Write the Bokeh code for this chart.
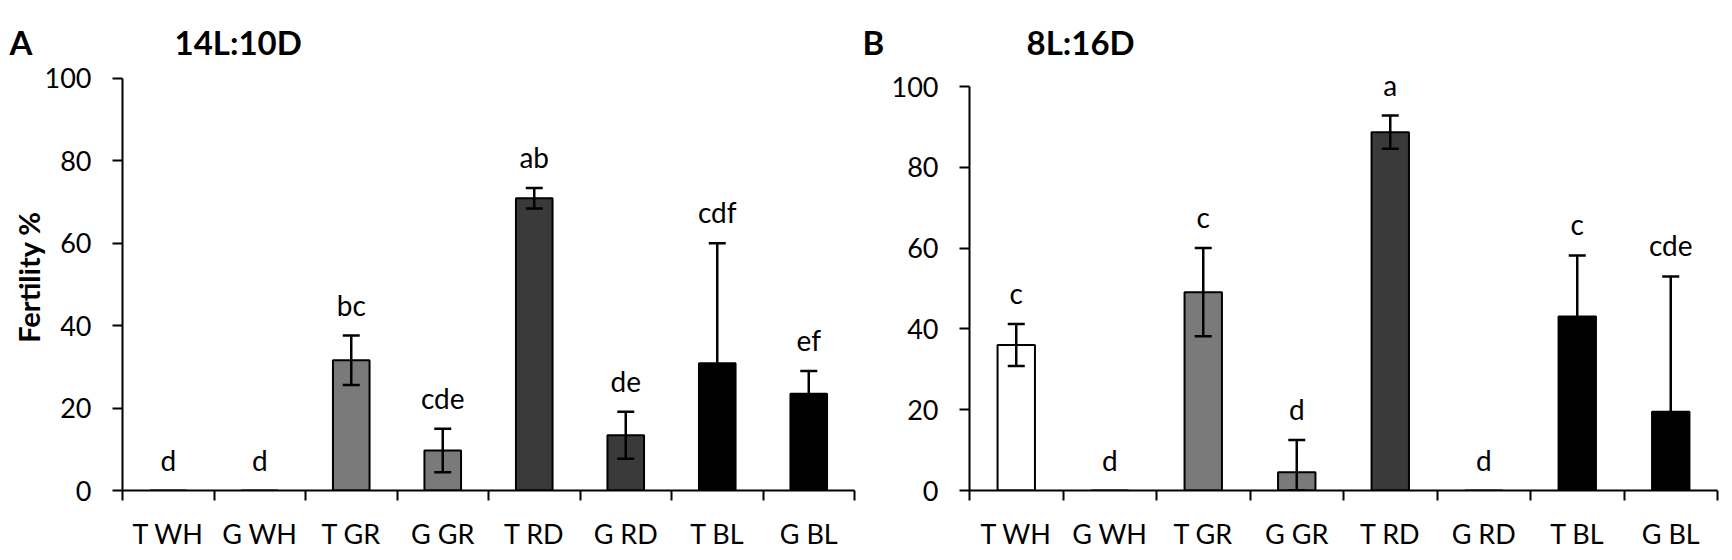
from bokeh.plotting import figure
from bokeh.models import ColumnDataSource, FixedTicker, Whisker, TeeHead
from bokeh.layouts import row, column
from bokeh.core.properties import value
from bokeh.embed import file_html
from bokeh.resources import INLINE

categories = ["T WH", "G WH", "T GR", "G GR", "T RD", "G RD", "T BL", "G BL"]
bar_colors = ["#ffffff", "#ffffff", "#7a7a7a", "#7a7a7a", "#3a3a3a", "#3a3a3a", "#000000", "#000000"]

a_values = [0, 0, 31.6, 9.7, 70.9, 13.4, 30.9, 23.5]
a_errors = [0, 0, 6.0, 5.3, 2.5, 5.7, 29.1, 5.5]
a_letters = ["d", "d", "bc", "cde", "ab", "de", "cdf", "ef"]

b_values = [36.0, 0, 49.1, 4.5, 88.7, 0, 43.1, 19.5]
b_errors = [5.2, 0, 10.9, 8.0, 4.1, 0, 15.1, 33.5]
b_letters = ["c", "d", "c", "d", "a", "d", "c", "cde"]

y_ticks = [0, 20, 40, 60, 80, 100]

panel_tags = ["A", "B"]
panel_titles = ["14L:10D", "8L:16D"]
y_title = "Fertility %"

FONT = "Lato"
FIG_A_W, FIG_B_W = 878, 849
HEADER_H = 62
PANEL_H = 498


def make_panel(values, errors, letters, width, height, border_left, border_right,
               border_top, border_bottom, y_end, y_label):
    n = len(categories)
    centers = [i + 0.5 for i in range(n)]
    edges = list(range(n + 1))
    p = figure(width=width, height=height, x_range=(0, n), y_range=(0, y_end),
               output_backend="svg", toolbar_location=None, title=None,
               min_border_left=border_left, min_border_right=border_right,
               min_border_top=border_top, min_border_bottom=border_bottom)
    p.outline_line_color = None
    p.grid.visible = False
    p.background_fill_color = "white"
    p.border_fill_color = "white"

    src = ColumnDataSource(dict(x=centers, top=values, color=bar_colors,
                                label_y=[v + e for v, e in zip(values, errors)],
                                letters=letters))
    p.vbar(x="x", top="top", bottom=0, width=0.4, fill_color="color",
           line_color="black", line_width=2, source=src)

    ex = [c for c, e in zip(centers, errors) if e > 0]
    eu = [v + e for v, e in zip(values, errors) if e > 0]
    el = [max(0, v - e) for v, e in zip(values, errors) if e > 0]
    esrc = ColumnDataSource(dict(x=ex, upper=eu, lower=el))
    w = Whisker(base="x", upper="upper", lower="lower", source=esrc,
                line_color="black", line_width=2.5,
                upper_head=TeeHead(size=17, line_width=2.5, line_color="black"),
                lower_head=TeeHead(size=17, line_width=2.5, line_color="black"),
                level="annotation")
    p.add_layout(w)

    p.text(x="x", y="label_y", text="letters", source=src,
           text_font=value(FONT), text_font_size="28px", text_color="black",
           text_align="center", text_baseline="alphabetic", y_offset=-31)

    xa = p.xaxis[0]
    xa.ticker = FixedTicker(ticks=centers, minor_ticks=edges)
    xa.major_label_overrides = {c: name for c, name in zip(centers, categories)}
    xa.major_tick_line_color = None
    xa.major_tick_out = 0
    xa.major_tick_in = 0
    xa.minor_tick_out = 10
    xa.minor_tick_in = 0
    xa.minor_tick_line_color = "black"
    xa.minor_tick_line_width = 2
    xa.axis_line_color = "black"
    xa.axis_line_width = 2
    xa.major_label_text_font = FONT
    xa.major_label_text_font_size = "27px"
    xa.major_label_text_color = "black"
    xa.major_label_text_line_height = 1.0
    xa.major_label_standoff = 16

    ya = p.yaxis[0]
    ya.ticker = FixedTicker(ticks=y_ticks)
    ya.bounds = (0, 100)
    ya.minor_tick_line_color = None
    ya.major_tick_out = 10
    ya.major_tick_in = 0
    ya.major_tick_line_color = "black"
    ya.major_tick_line_width = 2
    ya.axis_line_color = "black"
    ya.axis_line_width = 2
    ya.major_label_text_font = FONT
    ya.major_label_text_font_size = "27px"
    ya.major_label_text_color = "black"
    ya.major_label_standoff = 21
    if y_label:
        ya.axis_label = y_label
        ya.axis_label_text_font = FONT
        ya.axis_label_text_font_style = "bold"
        ya.axis_label_text_font_size = "29px"
        ya.axis_label_text_color = "black"
        ya.axis_label_standoff = -4
    return p


# header strip carrying the panel letters and the photoperiod titles
header_w = FIG_A_W + FIG_B_W
header = figure(width=header_w, height=HEADER_H, x_range=(0, header_w),
                y_range=(0, HEADER_H), output_backend="svg", toolbar_location=None,
                title=None, x_axis_type=None, y_axis_type=None, min_border=0)
header.outline_line_color = None
header.grid.visible = False
hsrc = ColumnDataSource(dict(x=[9, 174, 862, 1026],
                             y=[8, 8, 8, 8],
                             t=[panel_tags[0], panel_titles[0], panel_tags[1], panel_titles[1]]))
header.text(x="x", y="y", text="t", source=hsrc, text_font=value(FONT),
            text_font_style="bold", text_font_size="33px", text_color="black",
            text_align="left", text_baseline="alphabetic", y_offset=-13)

pA = make_panel(a_values, a_errors, a_letters, width=FIG_A_W, height=PANEL_H,
                border_left=122, border_right=24, border_top=1, border_bottom=70,
                y_end=103.6, y_label=y_title)
pB = make_panel(b_values, b_errors, b_letters, width=FIG_B_W, height=PANEL_H,
                border_left=91, border_right=10, border_top=1, border_bottom=70,
                y_end=105.7, y_label=None)

layout = column(header, row(pA, pB))
open("out.html", "w").write(file_html(layout, INLINE))
